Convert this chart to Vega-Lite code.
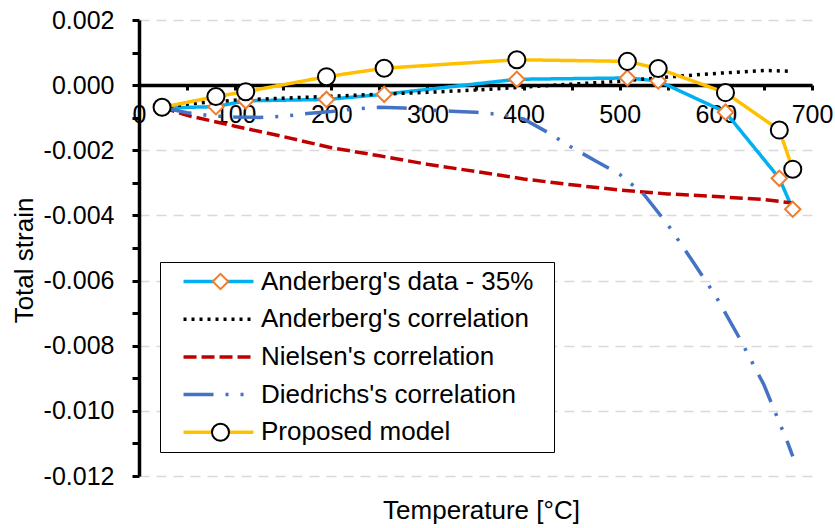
{
  "$schema": "https://vega.github.io/schema/vega-lite/v6.json",
  "width": 673,
  "height": 456,
  "autosize": {"type": "none"},
  "padding": {"left": 139, "top": 20, "right": 23, "bottom": 52},
  "background": "white",
  "config": {
    "view": {"stroke": null},
    "font": "Liberation Sans",
    "axis": {"labelColor": "black", "titleColor": "black", "titleFontWeight": "normal", "domainColor": "black", "tickColor": "black"}
  },
  "data": {
    "values": [
      {"s": "Anderberg's data - 35%", "mk": "Anderberg's data - 35% ", "T": 24, "v": -0.0007},
      {"s": "Anderberg's data - 35%", "mk": "Anderberg's data - 35% ", "T": 80, "v": -0.00066},
      {"s": "Anderberg's data - 35%", "mk": "Anderberg's data - 35% ", "T": 111, "v": -0.00048},
      {"s": "Anderberg's data - 35%", "mk": "Anderberg's data - 35% ", "T": 195, "v": -0.00044},
      {"s": "Anderberg's data - 35%", "mk": "Anderberg's data - 35% ", "T": 255, "v": -0.00028},
      {"s": "Anderberg's data - 35%", "mk": "Anderberg's data - 35% ", "T": 393, "v": 0.00018},
      {"s": "Anderberg's data - 35%", "mk": "Anderberg's data - 35% ", "T": 508, "v": 0.00022},
      {"s": "Anderberg's data - 35%", "mk": "Anderberg's data - 35% ", "T": 540, "v": 0.00013},
      {"s": "Anderberg's data - 35%", "mk": "Anderberg's data - 35% ", "T": 610, "v": -0.00083},
      {"s": "Anderberg's data - 35%", "mk": "Anderberg's data - 35% ", "T": 666, "v": -0.00286},
      {"s": "Anderberg's data - 35%", "mk": "Anderberg's data - 35% ", "T": 680, "v": -0.00381},
      {"s": "Anderberg's correlation", "T": 24, "v": -0.00068},
      {"s": "Anderberg's correlation", "T": 50, "v": -0.00058},
      {"s": "Anderberg's correlation", "T": 100, "v": -0.00046},
      {"s": "Anderberg's correlation", "T": 150, "v": -0.0004},
      {"s": "Anderberg's correlation", "T": 200, "v": -0.00034},
      {"s": "Anderberg's correlation", "T": 250, "v": -0.00028},
      {"s": "Anderberg's correlation", "T": 300, "v": -0.00022},
      {"s": "Anderberg's correlation", "T": 350, "v": -0.00015},
      {"s": "Anderberg's correlation", "T": 400, "v": -0.00006},
      {"s": "Anderberg's correlation", "T": 450, "v": 0.00003},
      {"s": "Anderberg's correlation", "T": 500, "v": 0.00012},
      {"s": "Anderberg's correlation", "T": 550, "v": 0.00025},
      {"s": "Anderberg's correlation", "T": 600, "v": 0.00036},
      {"s": "Anderberg's correlation", "T": 650, "v": 0.00045},
      {"s": "Anderberg's correlation", "T": 675, "v": 0.00043},
      {"s": "Nielsen's correlation", "T": 24, "v": -0.00068},
      {"s": "Nielsen's correlation", "T": 50, "v": -0.00093},
      {"s": "Nielsen's correlation", "T": 100, "v": -0.00126},
      {"s": "Nielsen's correlation", "T": 150, "v": -0.00158},
      {"s": "Nielsen's correlation", "T": 200, "v": -0.00192},
      {"s": "Nielsen's correlation", "T": 250, "v": -0.00217},
      {"s": "Nielsen's correlation", "T": 300, "v": -0.00243},
      {"s": "Nielsen's correlation", "T": 350, "v": -0.00265},
      {"s": "Nielsen's correlation", "T": 400, "v": -0.00288},
      {"s": "Nielsen's correlation", "T": 450, "v": -0.00306},
      {"s": "Nielsen's correlation", "T": 500, "v": -0.00322},
      {"s": "Nielsen's correlation", "T": 550, "v": -0.00334},
      {"s": "Nielsen's correlation", "T": 600, "v": -0.00342},
      {"s": "Nielsen's correlation", "T": 650, "v": -0.00351},
      {"s": "Nielsen's correlation", "T": 680, "v": -0.00362},
      {"s": "Diedrichs's correlation", "T": 24, "v": -0.00068},
      {"s": "Diedrichs's correlation", "T": 50, "v": -0.00085},
      {"s": "Diedrichs's correlation", "T": 75, "v": -0.00094},
      {"s": "Diedrichs's correlation", "T": 100, "v": -0.00098},
      {"s": "Diedrichs's correlation", "T": 125, "v": -0.00099},
      {"s": "Diedrichs's correlation", "T": 150, "v": -0.00096},
      {"s": "Diedrichs's correlation", "T": 175, "v": -0.00087},
      {"s": "Diedrichs's correlation", "T": 200, "v": -0.00081},
      {"s": "Diedrichs's correlation", "T": 225, "v": -0.00073},
      {"s": "Diedrichs's correlation", "T": 250, "v": -0.00068},
      {"s": "Diedrichs's correlation", "T": 275, "v": -0.0007},
      {"s": "Diedrichs's correlation", "T": 300, "v": -0.00076},
      {"s": "Diedrichs's correlation", "T": 325, "v": -0.0008},
      {"s": "Diedrichs's correlation", "T": 350, "v": -0.00083},
      {"s": "Diedrichs's correlation", "T": 375, "v": -0.0009},
      {"s": "Diedrichs's correlation", "T": 400, "v": -0.00104},
      {"s": "Diedrichs's correlation", "T": 425, "v": -0.00145},
      {"s": "Diedrichs's correlation", "T": 450, "v": -0.00191},
      {"s": "Diedrichs's correlation", "T": 475, "v": -0.00233},
      {"s": "Diedrichs's correlation", "T": 500, "v": -0.00274},
      {"s": "Diedrichs's correlation", "T": 525, "v": -0.00335},
      {"s": "Diedrichs's correlation", "T": 550, "v": -0.00428},
      {"s": "Diedrichs's correlation", "T": 575, "v": -0.00537},
      {"s": "Diedrichs's correlation", "T": 600, "v": -0.00648},
      {"s": "Diedrichs's correlation", "T": 625, "v": -0.00779},
      {"s": "Diedrichs's correlation", "T": 650, "v": -0.0092},
      {"s": "Diedrichs's correlation", "T": 675, "v": -0.011},
      {"s": "Diedrichs's correlation", "T": 680, "v": -0.0114},
      {"s": "Proposed model", "mk": "Proposed model ", "T": 24, "v": -0.00068},
      {"s": "Proposed model", "mk": "Proposed model ", "T": 80, "v": -0.00035},
      {"s": "Proposed model", "mk": "Proposed model ", "T": 111, "v": -0.0002},
      {"s": "Proposed model", "mk": "Proposed model ", "T": 195, "v": 0.00026},
      {"s": "Proposed model", "mk": "Proposed model ", "T": 255, "v": 0.00052},
      {"s": "Proposed model", "mk": "Proposed model ", "T": 393, "v": 0.00078},
      {"s": "Proposed model", "mk": "Proposed model ", "T": 508, "v": 0.00073},
      {"s": "Proposed model", "mk": "Proposed model ", "T": 540, "v": 0.00051},
      {"s": "Proposed model", "mk": "Proposed model ", "T": 610, "v": -0.00023},
      {"s": "Proposed model", "mk": "Proposed model ", "T": 666, "v": -0.00138},
      {"s": "Proposed model", "mk": "Proposed model ", "T": 680, "v": -0.00258}
    ]
  },
  "encoding": {
    "x": {
      "field": "T", "type": "quantitative",
      "scale": {"domain": [0, 700], "nice": false, "zero": false},
      "axis": {
        "title": "Temperature [°C]",
        "orient": "bottom",
        "offset": -391,
        "values": [0, 50, 100, 150, 200, 250, 300, 350, 400, 450, 500, 550, 600, 650, 700],
        "labelExpr": "datum.value % 100 === 0 ? format(datum.value, 'd') : ''",
        "labelFlush": false,
        "labelOverlap": false,
        "labelFontSize": 25,
        "labelPadding": 12,
        "tickSize": 5,
        "tickWidth": 3,
        "domainWidth": 3.5,
        "grid": false,
        "titleFontSize": 26,
        "titleX": 342,
        "titleY": 433,
        "titleAlign": "center",
        "titleBaseline": "alphabetic"
      }
    },
    "y": {
      "field": "v", "type": "quantitative",
      "scale": {"domain": [-0.012, 0.002], "nice": false, "zero": false},
      "axis": {
        "title": "Total strain",
        "values": [-0.012, -0.011, -0.01, -0.009, -0.008, -0.007, -0.006, -0.005, -0.004, -0.003, -0.002, -0.001, 0, 0.001, 0.002],
        "labelExpr": "abs(round(datum.value * 1000)) % 2 === 0 ? replace(format(datum.value, '.3f'), '−', '-') : ''",
        "labelFontSize": 25,
        "labelPadding": 18,
        "tickSize": 7,
        "tickWidth": 3,
        "domainWidth": 3.5,
        "grid": true,
        "gridColor": "#D9D9D9",
        "gridWidth": 1.5,
        "gridDash": [10, 7],
        "gridOpacity": {"condition": {"test": "abs(round(datum.value * 1000)) % 2 === 0 && round(datum.value * 1000) !== 0", "value": 1}, "value": 0},
        "titleFontSize": 26,
        "titleX": -107,
        "titleY": 240,
        "titleAngle": 270,
        "titleAlign": "center",
        "titleBaseline": "alphabetic"
      }
    }
  },
  "layer": [
    {
      "mark": {"type": "line", "strokeWidth": 3.5},
      "encoding": {
        "color": {
          "field": "s", "type": "nominal",
          "scale": {
            "domain": ["Anderberg's data - 35%", "Anderberg's correlation", "Nielsen's correlation", "Diedrichs's correlation", "Proposed model"],
            "range": ["#00B0F0", "#000000", "#C00000", "#4472C4", "#FFC000"]
          },
          "legend": {
            "orient": "none", "legendX": 21, "legendY": 242,
            "title": ".", "titleOrient": "right", "titlePadding": 18, "titleFontSize": 2, "titleColor": "white", "titleOpacity": 0,
            "symbolType": "M-1,0M-0.636,0L0.636,0M1,0",
            "symbolSize": 12100, "symbolStrokeWidth": 3.5,
            "clipHeight": 36, "rowPadding": 1.7, "padding": 1.5,
            "labelOffset": -14.5, "labelFontSize": 26, "labelLimit": 500, "labelColor": "black",
            "strokeColor": "black", "fillColor": "white"
          }
        },
        "strokeDash": {
          "field": "s", "type": "nominal",
          "scale": {
            "domain": ["Anderberg's data - 35%", "Anderberg's correlation", "Nielsen's correlation", "Diedrichs's correlation", "Proposed model"],
            "range": [[1, 0], [3, 5], [13, 5], [30, 12, 3, 12, 3, 12], [1, 0]]
          },
          "legend": {
            "orient": "none", "legendX": 21, "legendY": 242,
            "title": ".", "titleOrient": "right", "titlePadding": 18, "titleFontSize": 2, "titleColor": "white", "titleOpacity": 0,
            "symbolType": "M-1,0M-0.636,0L0.636,0M1,0",
            "symbolSize": 12100, "symbolStrokeWidth": 3.5,
            "clipHeight": 36, "rowPadding": 1.7, "padding": 1.5,
            "labelOffset": -14.5, "labelFontSize": 26, "labelLimit": 500, "labelColor": "black",
            "strokeColor": "black", "fillColor": "white"
          }
        }
      }
    },
    {
      "transform": [{"filter": "isValid(datum.mk)"}],
      "mark": {"type": "point", "filled": true, "fill": "white", "strokeWidth": 2, "size": 12100, "opacity": 1},
      "encoding": {
        "stroke": {
          "field": "mk", "type": "nominal",
          "scale": {
            "domain": ["Anderberg's data - 35% ", "Anderberg's correlation ", "Nielsen's correlation ", "Diedrichs's correlation ", "Proposed model "],
            "range": ["#ED7D31", "transparent", "transparent", "transparent", "#000000"]
          },
          "legend": {
            "orient": "none", "legendX": 21, "legendY": 242, "title": null,
            "symbolSize": 12100, "symbolStrokeWidth": 2, "symbolFillColor": "white", "symbolOpacity": 1, "symbolOffset": 3,
            "clipHeight": 36, "rowPadding": 1.7, "padding": 1.5,
            "labelOffset": -14.5, "labelFontSize": 26, "labelLimit": 500, "labelOpacity": 0
          }
        },
        "shape": {
          "field": "mk", "type": "nominal",
          "scale": {
            "domain": ["Anderberg's data - 35% ", "Anderberg's correlation ", "Nielsen's correlation ", "Diedrichs's correlation ", "Proposed model "],
            "range": [
              "M-1,0M-0.14,0L0,-0.14L0.14,0L0,0.14ZM1,0",
              "M-1,0M1,0",
              "M-1,0M1,0",
              "M-1,0M1,0",
              "M-1,0M-0.155,0A0.155,0.155,0,1,0,0.155,0A0.155,0.155,0,1,0,-0.155,0ZM1,0"
            ]
          },
          "legend": {
            "orient": "none", "legendX": 21, "legendY": 242, "title": null,
            "symbolSize": 12100, "symbolStrokeWidth": 2, "symbolFillColor": "white", "symbolOpacity": 1, "symbolOffset": 3,
            "clipHeight": 36, "rowPadding": 1.7, "padding": 1.5,
            "labelOffset": -14.5, "labelFontSize": 26, "labelLimit": 500, "labelOpacity": 0
          }
        }
      }
    }
  ]
}
